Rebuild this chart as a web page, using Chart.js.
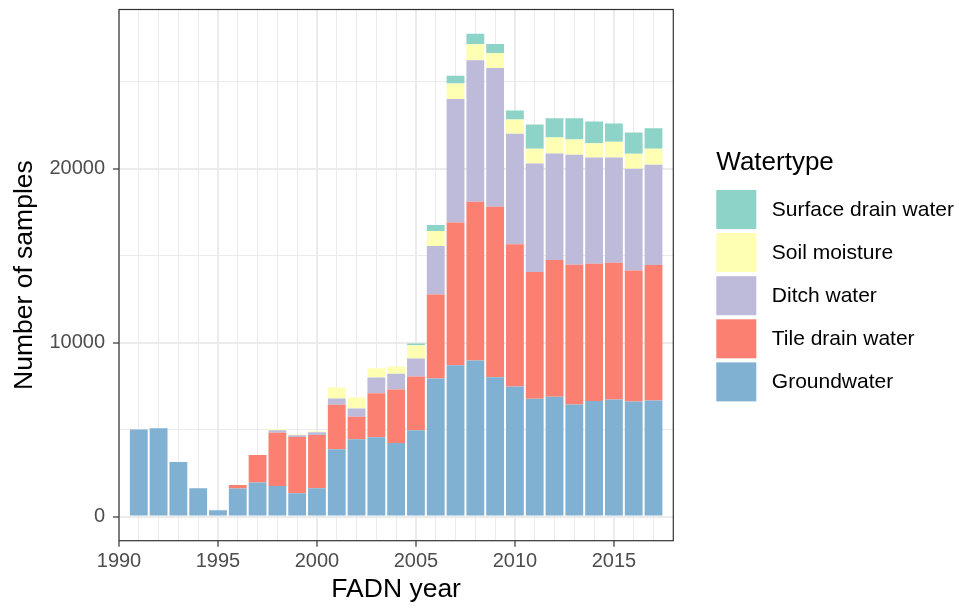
<!DOCTYPE html>
<html>
<head>
<meta charset="utf-8">
<script src="https://cdn.jsdelivr.net/npm/chart.js@4"></script>
<style>
  body { margin: 0; background: #fff; }
  #wrap { width: 959px; height: 610px; }
</style>
</head>
<body>
<div id="wrap"><canvas id="samples" width="959" height="610"></canvas></div>
<script>
// number of samples per FADN year, stacked by water type
var years = [1991, 1992, 1993, 1994, 1995, 1996, 1997, 1998, 1999, 2000,
             2001, 2002, 2003, 2004, 2005, 2006, 2007, 2008, 2009, 2010,
             2011, 2012, 2013, 2014, 2015, 2016, 2017];

var groundwater = [5000, 5070, 3135, 1625, 362, 1608, 1952, 1757, 1338, 1625,
                   3864, 4439, 4553, 4226, 4955, 7941, 8705, 8975, 8016, 7482,
                   6776, 6890, 6448, 6638, 6735, 6620, 6678];
var tileDrain   = [0, 0, 0, 0, 0, 207, 1585, 3066, 3232, 3060,
                   2567, 1303, 2544, 3084, 3101, 4824, 8211, 9130, 9801, 8171,
                   7292, 7867, 8039, 7906, 7867, 7523, 7792];
var ditch       = [0, 0, 0, 0, 0, 0, 0, 140, 98, 155,
                   362, 477, 902, 901, 1034, 2796, 7103, 8136, 7982, 6356,
                   6236, 6121, 6316, 6104, 6046, 5857, 5759];
var soil        = [0, 0, 0, 0, 0, 0, 0, 60, 45, 60,
                   632, 632, 534, 420, 763, 861, 878, 919, 861, 821,
                   844, 919, 879, 827, 902, 861, 919];
var surface     = [0, 0, 0, 0, 0, 0, 0, 0, 0, 0,
                   0, 0, 0, 0, 98, 345, 460, 609, 517, 517,
                   1395, 1114, 1229, 1240, 1051, 1223, 1188];

var yTicks = [0, 5000, 10000, 15000, 20000, 25000];
var yLabelled = [0, 10000, 20000];
var xLabelEvery = 5;

Chart.defaults.font.family = "'Liberation Sans', Arial, Helvetica, sans-serif";

function series(vals) {
  return years.map(function (yr, i) { return { x: yr, y: vals[i] }; });
}

// panel border + ggplot-style legend on the right
var panelAndKey = {
  id: 'panelAndKey',
  afterDatasetsDraw: function (chart) {
    var a = chart.chartArea, ctx = chart.ctx;
    ctx.save();
    ctx.strokeStyle = '#333333';
    ctx.lineWidth = 1.2;
    ctx.strokeRect(a.left, a.top, a.right - a.left, a.bottom - a.top);
    ctx.restore();
  },
  afterDraw: function (chart) {
    var ctx = chart.ctx;
    var x0 = chart.chartArea.right + 43;
    ctx.save();
    ctx.fillStyle = '#000';
    ctx.textBaseline = 'middle';
    ctx.font = "26px 'Liberation Sans', Arial, sans-serif";
    ctx.fillText('Watertype', x0, 163);
    ctx.font = "21px 'Liberation Sans', Arial, sans-serif";
    var sets = chart.data.datasets.slice().reverse();
    sets.forEach(function (ds, i) {
      var top = 190 + i * 43.1;
      ctx.fillStyle = ds.backgroundColor;
      ctx.fillRect(x0, top, 40, 39);
      ctx.fillStyle = '#000';
      ctx.fillText(ds.label, x0 + 55.5, top + 20);
    });
    ctx.restore();
  }
};

var ctx = document.getElementById('samples');

var samplesChart = new Chart(ctx, {
  type: 'bar',
  data: {
    datasets: [
      { label: 'Groundwater',         data: series(groundwater), backgroundColor: '#80B1D3' },
      { label: 'Tile drain water',    data: series(tileDrain),   backgroundColor: '#FB8072' },
      { label: 'Ditch water',         data: series(ditch),       backgroundColor: '#BEBADA' },
      { label: 'Soil moisture',       data: series(soil),        backgroundColor: '#FFFFB3' },
      { label: 'Surface drain water', data: series(surface),     backgroundColor: '#8DD3C7' }
    ]
  },
  options: {
    responsive: false,
    animation: false,
    devicePixelRatio: 1,
    categoryPercentage: 1,
    barPercentage: 0.9,
    layout: { padding: { left: 9, right: 285.7, top: 9.5, bottom: 4 } },
    plugins: {
      legend: { display: false },
      tooltip: { enabled: false }
    },
    scales: {
      x: {
        type: 'linear',
        stacked: true,
        offset: false,
        min: 1990,
        max: 2018,
        border: { display: false },
        grid: {
          offset: false,
          color: '#EBEBEB',
          lineWidth: function (c) { return c.tick && c.tick.value % xLabelEvery === 0 ? 2 : 1; },
          tickLength: 6,
          tickWidth: 1.2,
          tickColor: function (c) { return c.tick && c.tick.value % xLabelEvery === 0 ? '#333333' : 'rgba(0,0,0,0)'; }
        },
        ticks: {
          stepSize: 1,
          autoSkip: false,
          maxRotation: 0,
          padding: 3,
          color: '#4D4D4D',
          font: { size: 20 },
          callback: function (v) { return v % xLabelEvery === 0 && v < 2018 ? String(v) : ''; }
        },
        title: {
          display: true,
          text: 'FADN year',
          color: '#000',
          font: { size: 26.5 },
          padding: 0
        },
        afterFit: function (scale) {
          scale.height = 65.3;
          scale.paddingLeft = 0;
          scale.paddingRight = 0;
        }
      },
      y: {
        stacked: true,
        min: -1390,
        max: 29160,
        border: { display: false },
        grid: {
          color: '#EBEBEB',
          lineWidth: function (c) { return c.tick && c.tick.value % 10000 === 0 ? 2 : 1; },
          tickLength: 6,
          tickWidth: 1.2,
          tickColor: function (c) { return c.tick && yLabelled.indexOf(c.tick.value) >= 0 ? '#333333' : 'rgba(0,0,0,0)'; }
        },
        afterBuildTicks: function (scale) {
          scale.ticks = yTicks.map(function (v) { return { value: v }; });
        },
        ticks: {
          padding: 8,
          color: '#4D4D4D',
          font: { size: 20 },
          callback: function (v) { return yLabelled.indexOf(v) >= 0 ? String(v) : ''; }
        },
        title: {
          display: true,
          text: 'Number of samples',
          color: '#000',
          font: { size: 26.5 },
          padding: 0
        },
        afterFit: function (scale) {
          scale.width = 110;
          scale.paddingTop = 0;
          scale.paddingBottom = 0;
        }
      }
    }
  },
  plugins: [panelAndKey]
});
</script>
</body>
</html>
